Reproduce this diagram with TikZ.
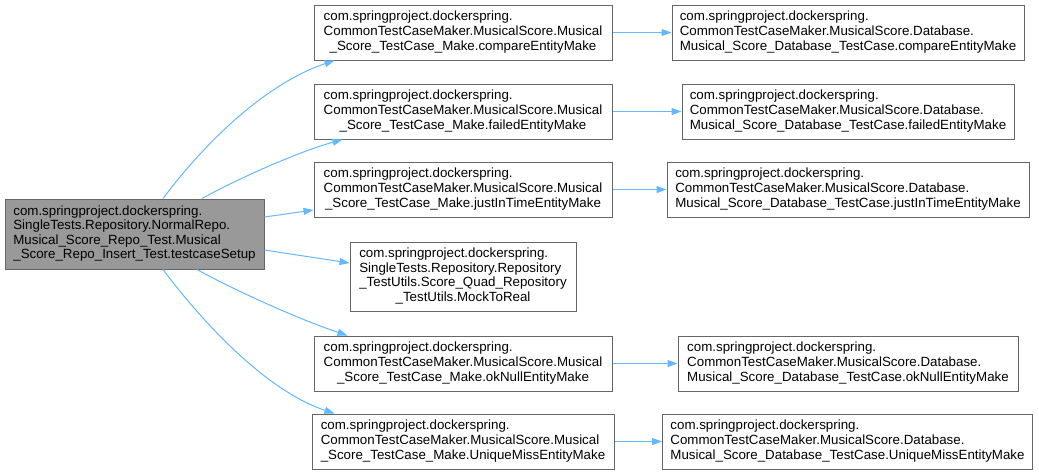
\documentclass[tikz,border=0pt]{standalone}
\usepackage{fontspec}
\setmainfont{Liberation Sans}
\usetikzlibrary{arrows.meta}
\definecolor{edgeblue}{HTML}{63B8FF}
\definecolor{bordergray}{HTML}{666666}
\definecolor{mainfill}{HTML}{999999}
\newcommand\lab[2]{\begin{tabular}{@{}l@{}}#1\\\multicolumn{1}{@{}c@{}}{#2}\end{tabular}}
\begin{document}
\begin{tikzpicture}[x=1pt,y=-1pt,
  box/.style={draw=bordergray, line width=1pt, fill=white, inner sep=0pt, rectangle,
    font=\fontsize{13.33}{14.6}\selectfont},
  mainbox/.style={box, fill=mainfill},
  edge/.style={draw=edgeblue, line width=1pt, -{Triangle[length=10pt,width=7pt]}}]
\useasboundingbox (0,0) rectangle (1039,475);
\fill[white] (0,0) rectangle (1039,475);

\node[mainbox, minimum width=259pt, minimum height=70pt] (main) at (134.5,234)
  {\lab{com.springproject.dockerspring.\\SingleTests.Repository.NormalRepo.\\Musical\_Score\_Repo\_Test.Musical}{\_Score\_Repo\_Insert\_Test.testcaseSetup}};

\node[box, minimum width=298pt, minimum height=55pt] (c1) at (463,32.5)
  {\lab{com.springproject.dockerspring.\\CommonTestCaseMaker.MusicalScore.Musical}{\_Score\_TestCase\_Make.compareEntityMake}};
\node[box, minimum width=298pt, minimum height=55pt] (c2) at (463,111.5)
  {\lab{com.springproject.dockerspring.\\CommonTestCaseMaker.MusicalScore.Musical}{\_Score\_TestCase\_Make.failedEntityMake}};
\node[box, minimum width=298pt, minimum height=55pt] (c3) at (463,189.5)
  {\lab{com.springproject.dockerspring.\\CommonTestCaseMaker.MusicalScore.Musical}{\_Score\_TestCase\_Make.justInTimeEntityMake}};
\node[box, minimum width=226pt, minimum height=69pt] (c4) at (463,276.5)
  {\lab{com.springproject.dockerspring.\\SingleTests.Repository.Repository\\\_TestUtils.Score\_Quad\_Repository}{\_TestUtils.MockToReal}};
\node[box, minimum width=298pt, minimum height=55pt] (c5) at (463,363.5)
  {\lab{com.springproject.dockerspring.\\CommonTestCaseMaker.MusicalScore.Musical}{\_Score\_TestCase\_Make.okNullEntityMake}};
\node[box, minimum width=302pt, minimum height=55pt] (c6) at (463,441.5)
  {\lab{com.springproject.dockerspring.\\CommonTestCaseMaker.MusicalScore.Musical}{\_Score\_TestCase\_Make.UniqueMissEntityMake}};

\node[box, minimum width=352pt, minimum height=55pt] (r1) at (848,32.5)
  {\lab{com.springproject.dockerspring.\\CommonTestCaseMaker.MusicalScore.Database.}{Musical\_Score\_Database\_TestCase.compareEntityMake}};
\node[box, minimum width=332pt, minimum height=55pt] (r2) at (848,111.5)
  {\lab{com.springproject.dockerspring.\\CommonTestCaseMaker.MusicalScore.Database.}{Musical\_Score\_Database\_TestCase.failedEntityMake}};
\node[box, minimum width=362pt, minimum height=55pt] (r3) at (848,189.5)
  {\lab{com.springproject.dockerspring.\\CommonTestCaseMaker.MusicalScore.Database.}{Musical\_Score\_Database\_TestCase.justInTimeEntityMake}};
\node[box, minimum width=340pt, minimum height=55pt] (r5) at (848,363.5)
  {\lab{com.springproject.dockerspring.\\CommonTestCaseMaker.MusicalScore.Database.}{Musical\_Score\_Database\_TestCase.okNullEntityMake}};
\node[box, minimum width=370pt, minimum height=55pt] (r6) at (847.5,441.5)
  {\lab{com.springproject.dockerspring.\\CommonTestCaseMaker.MusicalScore.Database.}{Musical\_Score\_Database\_TestCase.UniqueMissEntityMake}};

% edges from main
\draw[edge] ([xshift=28.5pt]main.north) .. controls +(52,-69) and +(-60,20) .. ([xshift=21pt]c1.south west);
\draw[edge] ([xshift=67.5pt]main.north) .. controls +(38,-21) and +(-43,12) .. ([xshift=29pt]c2.south west);
\draw[edge] ([yshift=17pt]main.east) -- ([yshift=-20.5pt]c3.west);
\draw[edge] ([yshift=-16pt]main.east) -- ([yshift=13.5pt]c4.west);
\draw[edge] ([xshift=62.5pt]main.south) .. controls +(38,21) and +(-48,-16) .. ([xshift=34pt]c5.north west);
\draw[edge] ([xshift=28.5pt]main.south) .. controls +(52,69) and +(-60,-20) .. ([xshift=23pt]c6.north west);

% edges to right column
\draw[edge] (c1.east) -- (r1.west);
\draw[edge] (c2.east) -- (r2.west);
\draw[edge] (c3.east) -- (r3.west);
\draw[edge] (c5.east) -- (r5.west);
\draw[edge] (c6.east) -- (r6.west);
\end{tikzpicture}
\end{document}
